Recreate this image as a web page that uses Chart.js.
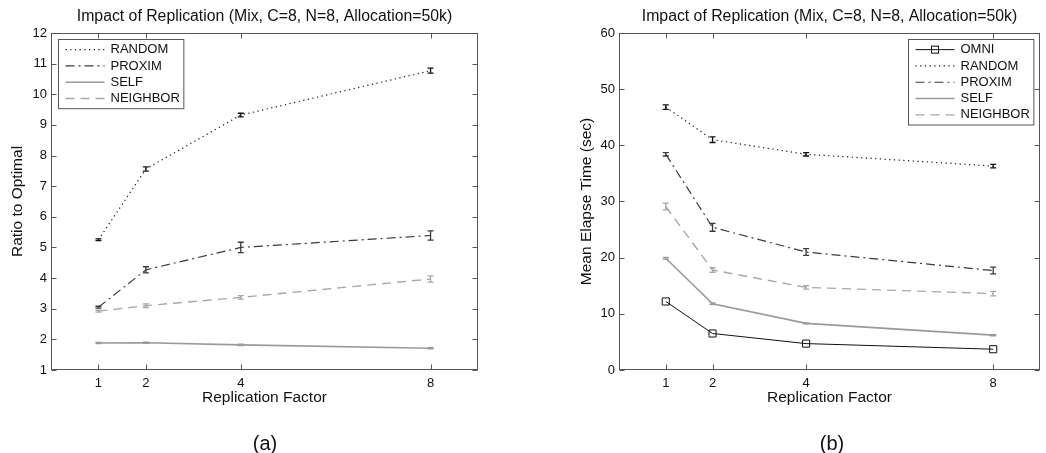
<!DOCTYPE html>
<html>
<head>
<meta charset="utf-8">
<title>Impact of Replication</title>
<script src="https://cdn.jsdelivr.net/npm/chart.js"></script>
<style>
  html, body { margin: 0; padding: 0; background: #fff; }
  #wrap { position: relative; width: 1046px; height: 453px; overflow: hidden;
          font-family: "Liberation Sans", Arial, sans-serif; color: #111; }
  .pane { position: absolute; top: 0; height: 453px; }
  #paneA { left: 0; width: 520px; }
  #paneB { left: 520px; width: 526px; }
  .cap { position: absolute; top: 432px; font-size: 20px; line-height: 22px;
         transform: translateX(-50%); }
</style>
</head>
<body>
<div id="wrap">
  <div class="pane" id="paneA"><canvas id="chartA"></canvas></div>
  <div class="pane" id="paneB"><canvas id="chartB"></canvas></div>
  <div class="cap" style="left:265px">(a)</div>
  <div class="cap" style="left:832px">(b)</div>
</div>
<script>
// --- data ---
const titleText = 'Impact of Replication (Mix, C=8, N=8, Allocation=50k)';
const factors = [1, 2, 4, 8];
const xTicks = [1, 2, 4, 8];
const ratioTicks = [1, 2, 3, 4, 5, 6, 7, 8, 9, 10, 11, 12];
const timeTicks = [0, 10, 20, 30, 40, 50, 60];

// (a) ratio to optimal
const ratioRandom = [5.25, 7.56, 9.32, 10.77];
const ratioRandomErr = [0.03, 0.07, 0.06, 0.08];
const ratioProxim = [3.05, 4.27, 5.0, 5.39];
const ratioProximErr = [0.03, 0.1, 0.17, 0.15];
const ratioSelf = [1.88, 1.89, 1.82, 1.71];
const ratioSelfErr = [0.02, 0.02, 0.02, 0.02];
const ratioNeighbor = [2.92, 3.1, 3.37, 3.97];
const ratioNeighborErr = [0.03, 0.06, 0.06, 0.1];

// (b) mean elapse time (sec)
const timeOmni = [12.2, 6.5, 4.7, 3.7];
const timeRandom = [46.8, 41.0, 38.4, 36.3];
const timeRandomErr = [0.4, 0.5, 0.3, 0.3];
const timeProxim = [38.4, 25.4, 21.0, 17.7];
const timeProximErr = [0.3, 0.7, 0.6, 0.6];
const timeSelf = [19.9, 11.8, 8.3, 6.2];
const timeSelfErr = [0.15, 0.15, 0.1, 0.1];
const timeNeighbor = [29.1, 17.8, 14.7, 13.6];
const timeNeighborErr = [0.6, 0.4, 0.3, 0.4];

const FONT = '"Liberation Sans", Arial, sans-serif';
Chart.defaults.font.family = FONT;
Chart.defaults.color = '#111';

// line styles (matlab-like greyscale)
const styles = {
  OMNI:     { borderColor: '#111', borderWidth: 1, borderDash: [], pointStyle: 'rect', pointRadius: 5 },
  RANDOM:   { borderColor: '#111', borderWidth: 1.2, borderDash: [1.2, 3.5] },
  PROXIM:   { borderColor: '#3a3a3a', borderWidth: 1.2, borderDash: [9, 4, 2, 4] },
  SELF:     { borderColor: '#9a9a9a', borderWidth: 1.6, borderDash: [] },
  NEIGHBOR: { borderColor: '#a8a8a8', borderWidth: 1.4, borderDash: [9, 6] }
};

function series(label, values, errors) {
  const s = styles[label];
  return {
    label,
    data: factors.map((f, i) => ({ x: f, y: values[i] })),
    errors,
    borderColor: s.borderColor,
    borderWidth: s.borderWidth,
    borderDash: s.borderDash,
    pointStyle: s.pointStyle || 'circle',
    pointRadius: s.pointRadius || 0,
    pointBorderColor: s.borderColor,
    pointBackgroundColor: 'rgba(0,0,0,0)',
    pointBorderWidth: 1,
    tension: 0,
    fill: false
  };
}

// vertical error bars with small caps
const errorBars = {
  id: 'errorBars',
  afterDatasetsDraw(chart) {
    const { ctx, scales: { x, y } } = chart;
    ctx.save();
    chart.data.datasets.forEach(ds => {
      if (!ds.errors) return;
      ctx.strokeStyle = ds.borderColor;
      ctx.lineWidth = 1.3;
      ctx.setLineDash([]);
      ds.data.forEach((p, j) => {
        const e = ds.errors[j];
        const px = x.getPixelForValue(p.x);
        const top = y.getPixelForValue(p.y + e);
        const bot = y.getPixelForValue(p.y - e);
        ctx.beginPath();
        ctx.moveTo(px, top); ctx.lineTo(px, bot);
        ctx.moveTo(px - 3, top); ctx.lineTo(px + 3, top);
        ctx.moveTo(px - 3, bot); ctx.lineTo(px + 3, bot);
        ctx.stroke();
      });
    });
    ctx.restore();
  }
};

// box around the plot with inward ticks on all four sides
const frame = {
  id: 'frame',
  afterDatasetsDraw(chart) {
    const { ctx, chartArea: a, scales: { x, y } } = chart;
    const L = Math.round(a.left) + 0.5, R = Math.round(a.right) - 0.5;
    const T = Math.round(a.top) + 0.5, B = Math.round(a.bottom) - 0.5;
    ctx.save();
    ctx.strokeStyle = '#555';
    ctx.lineWidth = 1;
    ctx.setLineDash([]);
    ctx.strokeRect(L, T, R - L, B - T);
    ctx.beginPath();
    x.ticks.forEach(t => {
      const px = Math.round(x.getPixelForValue(t.value)) + 0.5;
      ctx.moveTo(px, B); ctx.lineTo(px, B - 5);
      ctx.moveTo(px, T); ctx.lineTo(px, T + 5);
    });
    y.ticks.forEach(t => {
      const py = Math.round(y.getPixelForValue(t.value)) + 0.5;
      ctx.moveTo(L, py); ctx.lineTo(L + 5, py);
      ctx.moveTo(R, py); ctx.lineTo(R - 5, py);
    });
    ctx.stroke();
    ctx.restore();
  }
};

// matlab style legend box inside the plot
const boxLegend = {
  id: 'boxLegend',
  afterDraw(chart, args, opts) {
    const { ctx, chartArea: a } = chart;
    const sets = chart.data.datasets;
    const rowH = 16.3, sample = 39;
    ctx.save();
    ctx.font = '13px ' + FONT;
    const textW = Math.max(...sets.map(d => ctx.measureText(d.label).width));
    const w = 7 + sample + 6 + textW + 4;
    const h = sets.length * rowH + 4;
    const bx = Math.round(opts.side === 'right' ? a.right - 7 - w : a.left + 7) + 0.5;
    const by = Math.round(a.top + 6) + 0.5;
    ctx.fillStyle = '#fff';
    ctx.fillRect(bx, by, w, h);
    ctx.strokeStyle = '#555';
    ctx.lineWidth = 1;
    ctx.strokeRect(bx, by, w, h);
    sets.forEach((d, i) => {
      const cy = by + 2 + rowH * (i + 0.5);
      const x0 = bx + 7;
      ctx.strokeStyle = d.borderColor;
      ctx.lineWidth = d.borderWidth;
      ctx.setLineDash(d.borderDash || []);
      ctx.beginPath();
      ctx.moveTo(x0, cy); ctx.lineTo(x0 + sample, cy);
      ctx.stroke();
      if (d.pointRadius > 0) {
        ctx.setLineDash([]);
        ctx.lineWidth = 1;
        ctx.strokeRect(x0 + sample / 2 - 3.5, cy - 3.5, 7, 7);
      }
      ctx.fillStyle = '#111';
      ctx.textBaseline = 'middle';
      ctx.fillText(d.label, x0 + sample + 6, cy);
    });
    ctx.restore();
  }
};

function makeChart(id, datasets, yOpts) {
  return new Chart(document.getElementById(id), {
    type: 'line',
    data: { datasets },
    plugins: [frame, errorBars, boxLegend],
    options: {
      responsive: true,
      maintainAspectRatio: false,
      animation: false,
      layout: { padding: { left: 0, right: yOpts.padRight, top: 0, bottom: 43 } },
      plugins: {
        legend: { display: false },
        tooltip: { enabled: false },
        title: {
          display: true,
          text: titleText,
          fullSize: false,
          color: '#111',
          font: { size: 15.8, weight: 'normal' },
          padding: { top: 7.5, bottom: 6.5 }
        },
        boxLegend: { side: yOpts.legendSide }
      },
      scales: {
        x: {
          type: 'linear',
          min: 0,
          max: 9,
          grid: { display: false, drawTicks: false },
          border: { display: false },
          afterBuildTicks: s => { s.ticks = xTicks.map(v => ({ value: v })); },
          ticks: { font: { size: 13 }, padding: 6, autoSkip: false, maxRotation: 0, color: '#111' },
          title: { display: true, text: 'Replication Factor', font: { size: 15.5 }, color: '#111',
                   padding: { top: 0, bottom: 2.7 } },
          afterFit: s => { s.height = 40; }
        },
        y: {
          type: 'linear',
          min: yOpts.min,
          max: yOpts.max,
          grid: { display: false, drawTicks: false },
          border: { display: false },
          afterBuildTicks: s => { s.ticks = yOpts.ticks.map(v => ({ value: v })); },
          ticks: { font: { size: 13 }, padding: 4, color: '#111' },
          title: { display: true, text: yOpts.title, font: { size: 15.5 }, color: '#111',
                   padding: { top: yOpts.titlePad, bottom: 0 } },
          afterFit: s => { s.width = yOpts.width; }
        }
      }
    }
  });
}

makeChart('chartA', [
  series('RANDOM', ratioRandom, ratioRandomErr),
  series('PROXIM', ratioProxim, ratioProximErr),
  series('SELF', ratioSelf, ratioSelfErr),
  series('NEIGHBOR', ratioNeighbor, ratioNeighborErr)
], { min: 1, max: 12, ticks: ratioTicks, title: 'Ratio to Optimal',
     width: 51, titlePad: 8.7, padRight: 42, legendSide: 'left' });

makeChart('chartB', [
  series('OMNI', timeOmni, null),
  series('RANDOM', timeRandom, timeRandomErr),
  series('PROXIM', timeProxim, timeProximErr),
  series('SELF', timeSelf, timeSelfErr),
  series('NEIGHBOR', timeNeighbor, timeNeighborErr)
], { min: 0, max: 60, ticks: timeTicks, title: 'Mean Elapse Time (sec)',
     width: 99, titlePad: 57.7, padRight: 2, legendSide: 'right' });
</script>
</body>
</html>
